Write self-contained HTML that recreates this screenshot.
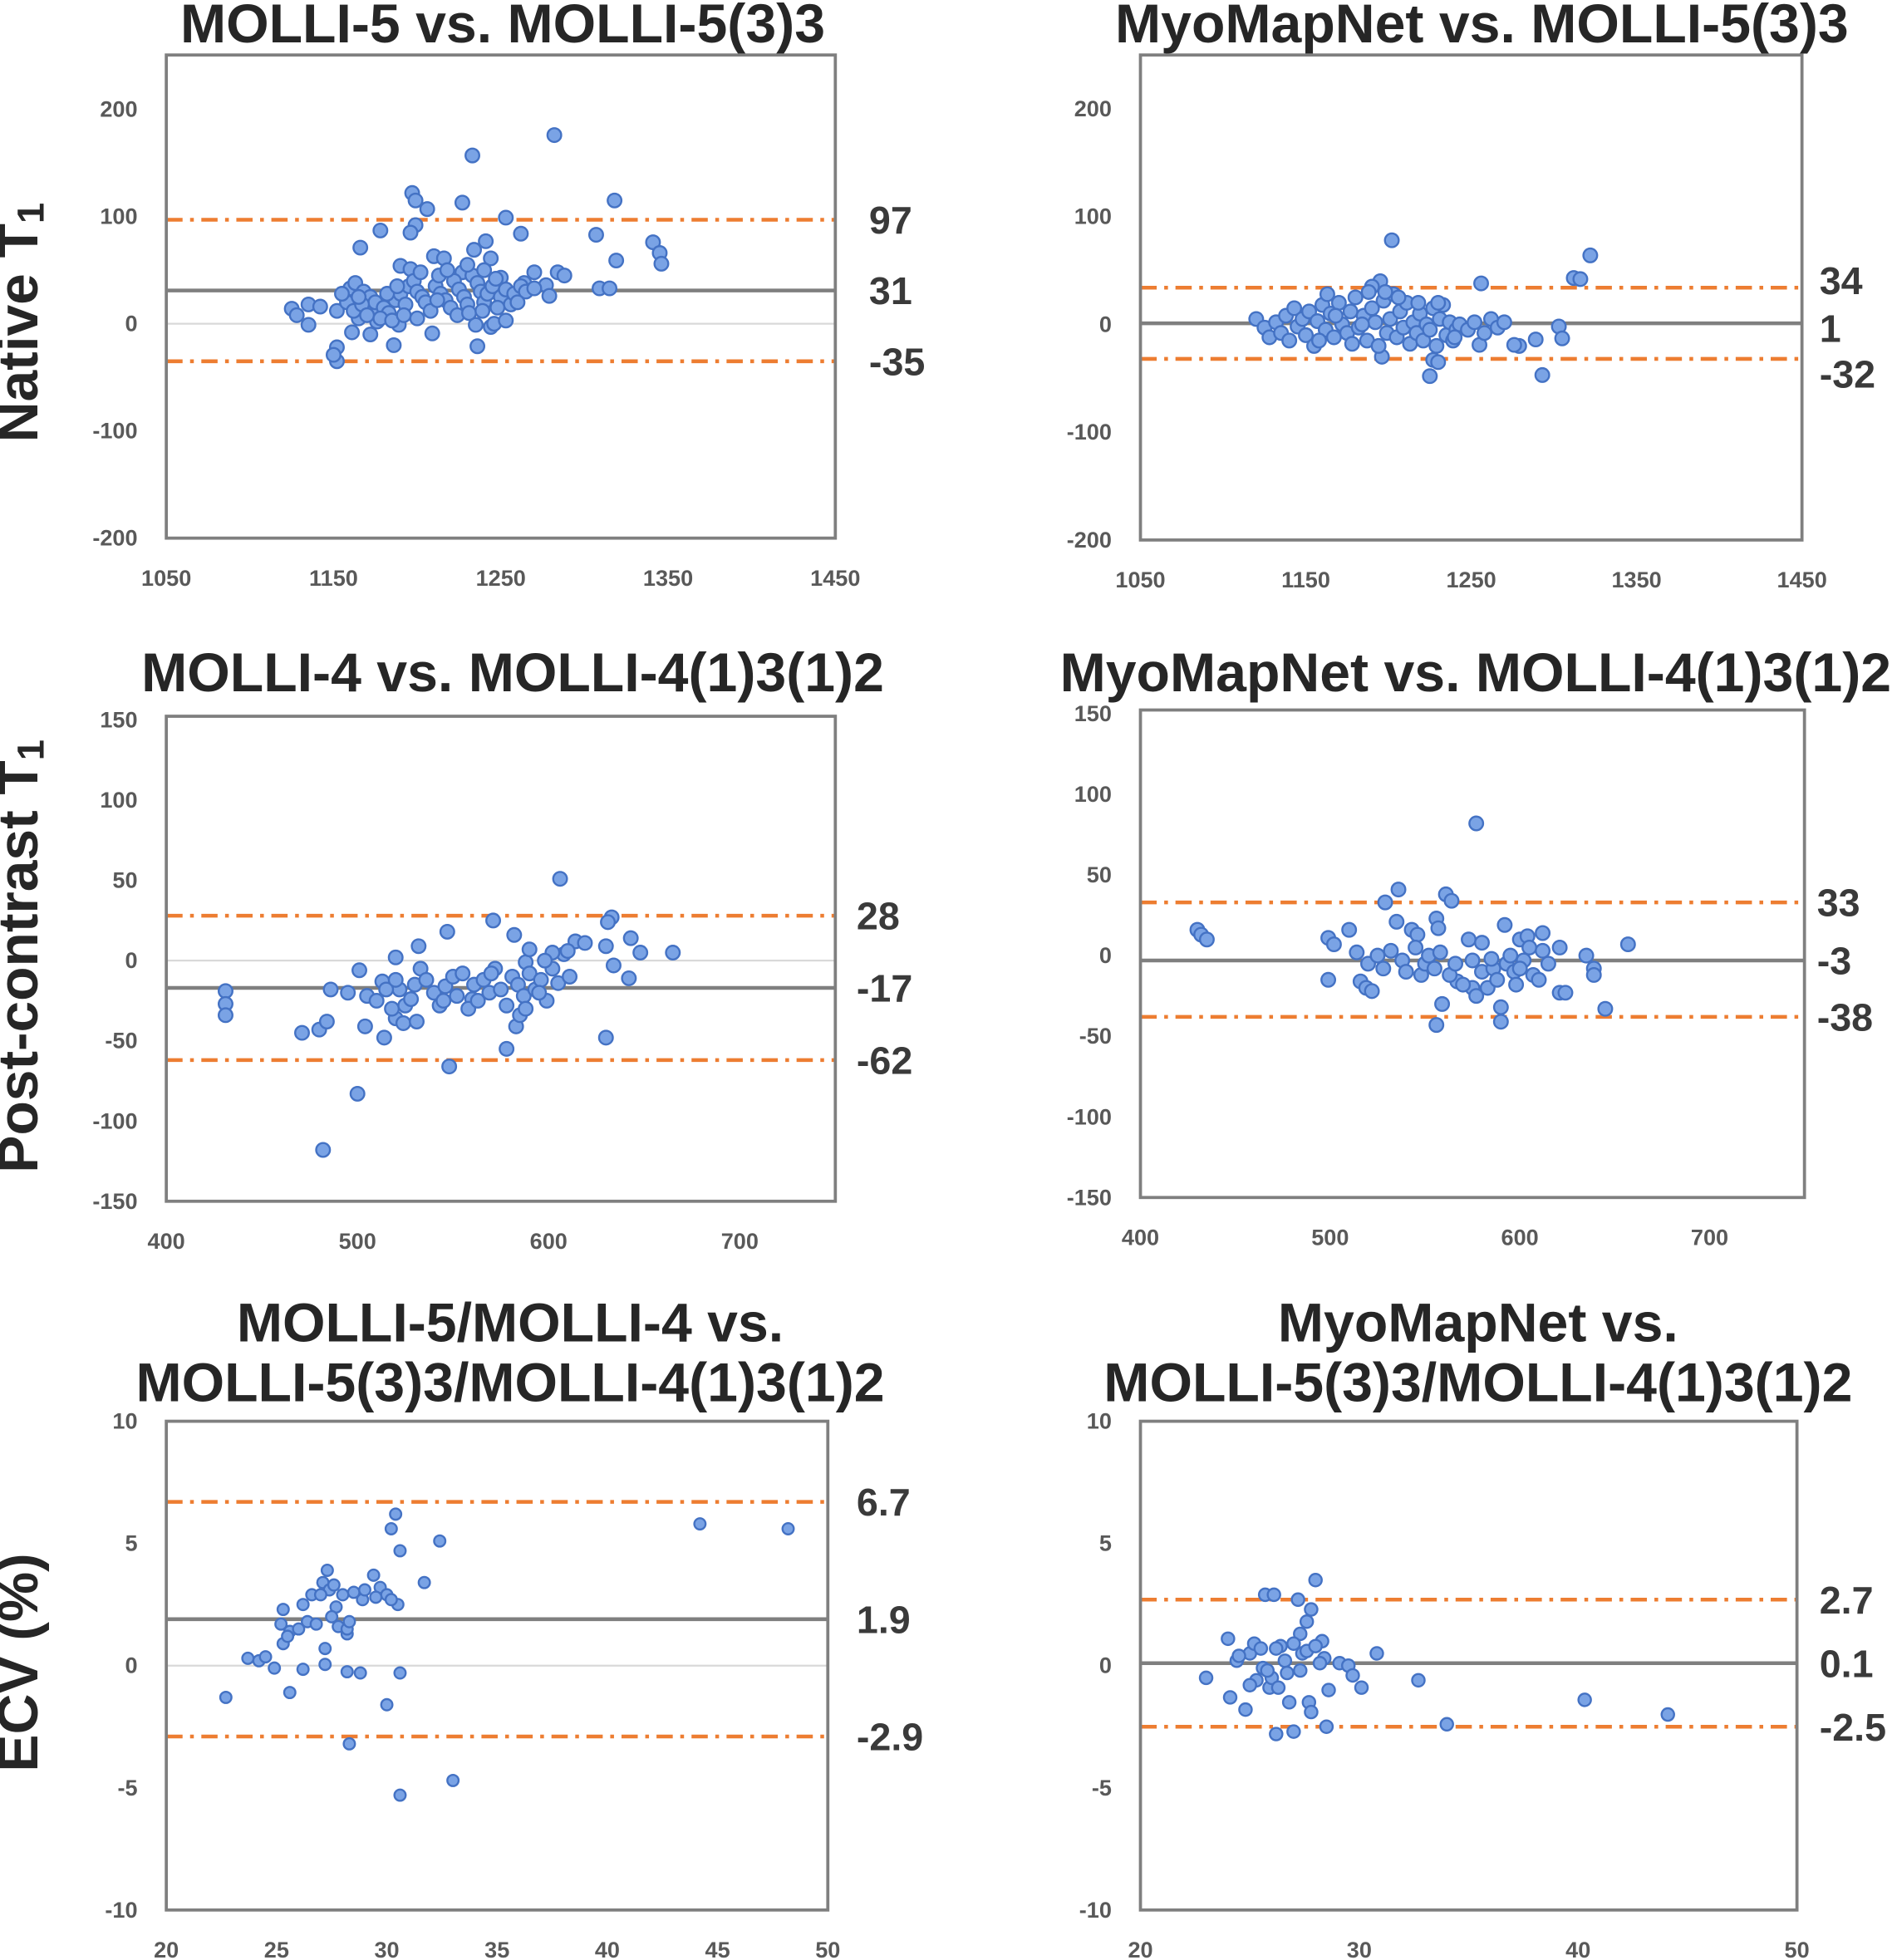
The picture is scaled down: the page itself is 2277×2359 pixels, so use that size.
<!DOCTYPE html>
<html><head><meta charset="utf-8"><style>
html,body{margin:0;padding:0;background:#fff;}
svg{display:block;}
text{font-family:"Liberation Sans",Arial,sans-serif;font-weight:bold;}
</style></head><body>
<svg id="chart" width="2277" height="2359" viewBox="0 0 1513 1568" preserveAspectRatio="none" xmlns="http://www.w3.org/2000/svg">
<text x="18" y="258" font-size="45" fill="#262626" text-anchor="middle" transform="rotate(-90 18 258)" dominant-baseline="middle">Native T<tspan font-size="30" dy="9">1</tspan></text>
<text x="18" y="765" font-size="45" fill="#262626" text-anchor="middle" transform="rotate(-90 18 765)" dominant-baseline="middle">Post-contrast T<tspan font-size="30" dy="9">1</tspan></text>
<text x="18" y="1330" font-size="45" fill="#262626" text-anchor="middle" transform="rotate(-90 18 1330)" dominant-baseline="middle">ECV (%)</text>
</svg>
<script>
// ---- data ----
const p1Points = [[1282,176],[1233,157],[1318,115],[1197,122],[1199,115],[1206,107],[1227,113],[1178,87],[1199,92],[1196,85],[1253,99],[1262,84],[1307,83],[1341,76],[1345,66],[1346,56],[1319,59],[1241,77],[1166,71],[1190,54],[1210,63],[1216,61],[1196,51],[1234,69],[1244,61],[1284,48],[1288,45],[1270,48],[1227,48],[1250,43],[1309,33],[1315,33],[1277,36],[1264,38],[1256,24],[1279,26],[1125,14],[1135,18],[1135,-1],[1128,8],[1142,16],[1152,12],[1152,-22],[1152,-35],[1150,-29],[1161,-8],[1172,-10],[1186,-20],[1209,-9],[1236,-21],[1244,-3],[1235,-1],[1246,0],[1253,3],[1189,-1],[1176,2],[1165,5],[1174,12],[1160,33],[1163,38],[1168,30],[1172,25],[1175,20],[1180,15],[1183,10],[1187,22],[1190,28],[1193,18],[1195,35],[1198,40],[1200,30],[1203,25],[1205,20],[1208,12],[1211,35],[1214,28],[1217,22],[1220,15],[1222,40],[1225,32],[1228,25],[1230,18],[1233,45],[1236,38],[1238,30],[1240,20],[1242,28],[1245,35],[1247,42],[1250,25],[1253,32],[1256,18],[1258,28],[1262,35],[1265,30],[1158,20],[1162,12],[1167,18],[1170,8],[1178,5],[1185,3],[1192,8],[1200,5],[1213,45],[1218,50],[1224,8],[1231,10],[1239,12],[1248,15],[1260,20],[1270,33],[1155,28],[1165,25],[1182,28],[1188,35],[1202,48],[1212,22],[1230,55],[1240,50]];
const p2Points = [[1202,78],[1322,64],[1312,43],[1316,42],[1256,38],[1195,40],[1190,35],[1293,-47],[1225,-48],[1227,-33],[1230,-35],[1196,-30],[1303,-2],[1305,-13],[1289,-14],[1279,-20],[1276,-19],[1255,-19],[1120,5],[1125,-3],[1128,-12],[1132,2],[1135,-8],[1138,8],[1140,-15],[1143,15],[1145,-2],[1148,5],[1150,-10],[1152,12],[1155,-20],[1157,3],[1160,18],[1162,-5],[1163,28],[1165,10],[1167,-12],[1170,20],[1172,0],[1175,-8],[1177,12],[1180,25],[1182,-3],[1185,8],[1187,-15],[1190,15],[1192,2],[1194,-20],[1197,22],[1199,-8],[1201,5],[1203,28],[1205,-12],[1207,12],[1209,-3],[1211,20],[1213,-18],[1215,2],[1217,-8],[1219,10],[1221,-15],[1223,0],[1225,-5],[1227,15],[1229,-20],[1231,5],[1233,18],[1235,-10],[1237,2],[1239,-15],[1241,-5],[1243,0],[1248,-5],[1252,2],[1258,-8],[1262,5],[1266,-3],[1270,2],[1158,-15],[1168,8],[1178,-18],[1188,30],[1198,30],[1206,25],[1218,20],[1230,20],[1240,-12],[1184,0]];
const p3Points = [[606,51],[482,-118],[500,-83],[633,27],[631,24],[630,-48],[431,-19],[431,-27],[431,-34],[471,-45],[480,-43],[484,-38],[486,-18],[495,-20],[501,-6],[504,-41],[514,-48],[520,-36],[524,-39],[531,-38],[532,9],[547,18],[548,-66],[560,-24],[571,25],[582,16],[578,-55],[583,-41],[585,-34],[588,-1],[590,7],[614,12],[619,11],[630,9],[634,-3],[642,-11],[643,14],[648,5],[665,5],[505,-22],[510,-25],[513,-13],[518,-30],[522,-18],[525,-28],[528,-24],[530,-15],[533,-5],[536,-12],[540,-20],[543,-28],[546,-16],[550,-10],[552,-22],[555,-8],[558,-30],[561,-15],[563,-25],[566,-12],[569,-20],[572,-5],[575,-18],[578,-28],[581,-10],[584,-15],[587,-22],[590,-8],[593,-18],[596,-12],[599,-25],[602,-5],[605,-14],[608,4],[611,-10],[602,5],[598,0],[520,2],[515,-18],[545,-25],[570,-8],[588,-30],[595,-20],[610,6],[520,-12]];
const p4Points = [[577,82],[430,16],[432,13],[435,10],[499,-15],[499,11],[502,7],[510,16],[514,2],[516,-16],[519,-20],[522,-22],[529,33],[536,41],[535,21],[543,16],[546,13],[556,23],[557,17],[556,-43],[559,-30],[561,38],[564,34],[567,-16],[573,10],[575,-20],[577,-25],[590,-32],[590,-41],[592,19],[600,10],[604,12],[612,14],[621,5],[621,-23],[624,-23],[635,0],[639,-8],[639,-12],[645,-33],[657,7],[520,-5],[525,0],[528,-8],[532,3],[538,-3],[540,-10],[545,5],[548,-12],[550,-5],[552,0],[555,-8],[558,2],[563,-12],[566,-5],[570,-18],[575,-3],[580,-10],[583,-20],[586,-8],[588,-15],[593,-5],[595,0],[597,-10],[598,-18],[602,-3],[605,5],[607,-12],[610,-15],[612,3],[615,-5],[580,8],[585,-2],[600,-8]];
const p5Points = [[22.7,-1.3],[23.7,0.3],[24.2,0.2],[24.5,0.36],[24.9,-0.1],[25.2,1.7],[25.3,2.3],[25.3,0.9],[25.6,1.4],[25.6,-1.1],[26.2,2.5],[26.2,-0.15],[26.4,1.8],[26.6,2.9],[27.1,3.4],[27.3,3.9],[27.4,3.1],[27.2,0.05],[27.2,0.7],[27.7,2.4],[28.0,2.9],[28.2,1.3],[28.2,-0.25],[28.3,-3.2],[28.8,-0.3],[28.9,2.7],[29.4,3.7],[29.7,3.2],[30.2,5.6],[30.4,6.2],[30.6,4.7],[30.5,2.5],[30.0,-1.6],[30.6,-5.3],[30.6,-0.3],[31.7,3.4],[32.4,5.1],[33.0,-4.7],[44.2,5.8],[48.2,5.6],[25.5,1.2],[26,1.5],[26.8,1.7],[27,2.9],[27.5,2.0],[27.8,1.6],[28.2,1.5],[28.5,3.0],[29,3.1],[30,2.9],[29.5,2.8],[30.2,2.7],[27.6,3.3],[28.3,1.8]];
const p6Points = [[23.0,-0.5],[24.0,1.1],[24.1,-1.3],[24.4,0.2],[24.8,-1.8],[25.0,0.5],[25.2,0.9],[25.3,-0.6],[25.7,2.9],[26.1,2.9],[25.6,-0.1],[25.9,-0.9],[26.2,-2.8],[26.4,0.8],[26.6,0.2],[26.8,-1.5],[27.0,-2.7],[27.2,2.7],[27.3,1.3],[27.4,0.5],[27.6,1.8],[27.8,2.3],[28.0,3.5],[27.7,-1.5],[27.8,-1.9],[28.3,1.0],[28.4,0.3],[28.5,-2.5],[28.6,-1.0],[29.1,0.1],[29.5,0.0],[29.7,-0.4],[30.1,-0.9],[30.8,0.5],[32.7,-0.6],[34.0,-2.4],[40.3,-1.4],[44.1,-2.0],[24.5,0.4],[25.0,-0.8],[25.5,0.7],[26.0,-0.5],[26.3,-0.9],[26.7,-0.3],[27.0,0.9],[27.3,-0.2],[27.6,0.6],[28,0.8],[28.2,0.1],[26.2,0.7],[25.8,-0.2]];
const meanValues = [31, 1, -17, -3, 1.9, 0.1];
const upperLoA = [97, 34, 28, 33, 6.7, 2.7];
const lowerLoA = [-35, -32, -62, -38, -2.9, -2.5];
const meanLabels = ["31","1","-17","-3","1.9","0.1"];
const upperLabels = ["97","34","28","33","6.7","2.7"];
const lowerLabels = ["-35","-32","-62","-38","-2.9","-2.5"];
const xTicks12 = [1050,1150,1250,1350,1450];
const yTicks12 = [200,100,0,-100,-200];
const xTicks34 = [400,500,600,700];
const yTicks34 = [150,100,50,0,-50,-100,-150];
const xTicks5 = [20,25,30,35,40,45,50];
const xTicks6 = [20,30,40,50];
const yTicks56 = [10,5,0,-5,-10];

// ---- layout ----
const panels = [
 {pts:p1Points, L:133,R:668,x0:1050,x1:1450,yT:200,pT:87.5,yB:-200,pB:430.5,top:44,xt:xTicks12,yt:yTicks12,lx:695,zero:true,title:["MOLLI-5 vs. MOLLI-5(3)3"],tx:402,ty:[34],r:5.5,labOff:[0,0,0]},
 {pts:p2Points, L:912,R:1441,x0:1050,x1:1450,yT:200,pT:87,yB:-200,pB:432,top:44,xt:xTicks12,yt:yTicks12,lx:1455,zero:false,title:["MyoMapNet vs. MOLLI-5(3)3"],tx:1185,ty:[34],r:5.5,labOff:[-6,4,12]},
 {pts:p3Points, L:133,R:668,x0:400,x1:750,yT:150,pT:576,yB:-150,pB:961,top:573,xt:xTicks34,yt:yTicks34,lx:685,zero:true,title:["MOLLI-4 vs. MOLLI-4(1)3(1)2"],tx:410,ty:[553],r:5.5,labOff:[0,0,0]},
 {pts:p4Points, L:912,R:1443,x0:400,x1:750,yT:150,pT:571,yB:-150,pB:958,top:568,xt:xTicks34,yt:yTicks34,lx:1453,zero:false,title:["MyoMapNet vs. MOLLI-4(1)3(1)2"],tx:1180,ty:[553],r:5.5,labOff:[0,0,0]},
 {pts:p5Points, L:133,R:662,x0:20,x1:50,yT:10,pT:1137,yB:-10,pB:1528,top:1137,xt:xTicks5,yt:yTicks56,lx:685,zero:true,title:["MOLLI-5/MOLLI-4 vs.","MOLLI-5(3)3/MOLLI-4(1)3(1)2"],tx:408,ty:[1073,1121],r:4.5,labOff:[0,0,0]},
 {pts:p6Points, L:912,R:1437,x0:20,x1:50,yT:10,pT:1137,yB:-10,pB:1528,top:1137,xt:xTicks6,yt:yTicks56,lx:1455,zero:false,title:["MyoMapNet vs.","MOLLI-5(3)3/MOLLI-4(1)3(1)2"],tx:1182,ty:[1073,1121],r:5,labOff:[0,0,0]}
];
const NS="http://www.w3.org/2000/svg";
const svg=document.getElementById('chart');
function mk(tag,attrs,parent){const e=document.createElementNS(NS,tag);for(const k in attrs)e.setAttribute(k,attrs[k]);(parent||svg).appendChild(e);return e;}
panels.forEach((p,i)=>{
 const g=mk('g',{});
 
 
 const xs=v=>p.L+(v-p.x0)/(p.x1-p.x0)*(p.R-p.L);
 const ys=v=>p.pB+(v-p.yB)/(p.yT-p.yB)*(p.pT-p.pB);
 const bottom=ys(p.yB);
 p.title.forEach((t,j)=>{
  const tt=mk('text',{x:p.tx,y:p.ty[j],'font-size':44,fill:'#262626','text-anchor':'middle'},g);
  tt.textContent=t;
  
  
 });
 if(p.zero){
  const z=mk('line',{x1:p.L,x2:p.R,y1:ys(0),y2:ys(0),stroke:'#d9d9d9','stroke-width':1.5},g);
  
  
 }
 const lo=mk('line',{x1:p.L,x2:p.R,y1:ys(upperLoA[i]),y2:ys(upperLoA[i]),stroke:'#ed7d31','stroke-width':3,'stroke-dasharray':'13 6 3 6'},g);
 
 
 const lo2=mk('line',{x1:p.L,x2:p.R,y1:ys(lowerLoA[i]),y2:ys(lowerLoA[i]),stroke:'#ed7d31','stroke-width':3,'stroke-dasharray':'13 6 3 6'},g);
 
 
 const m=mk('line',{x1:p.L,x2:p.R,y1:ys(meanValues[i]),y2:ys(meanValues[i]),stroke:'#7f7f7f','stroke-width':3},g);
 
 
 p.pts.forEach(d=>{
  const c=mk('circle',{cx:xs(d[0]),cy:ys(d[1]),r:p.r,fill:'#7aa3e5',stroke:'#4472c4','stroke-width':1.6},g);
  
  
 });
 const box=mk('rect',{x:p.L,y:p.top,width:p.R-p.L,height:bottom-p.top,fill:'none',stroke:'#7f7f7f','stroke-width':2.5},g);
 
 
 p.xt.forEach(v=>{
  const t=mk('text',{x:xs(v),y:bottom+38,'font-size':18,fill:'#595959','text-anchor':'middle'},g);
  t.textContent=v;
  
  
 });
 p.yt.forEach(v=>{
  const t=mk('text',{x:p.L-23,y:ys(v)+6,'font-size':18,fill:'#595959','text-anchor':'end'},g);
  t.textContent=v;
  
  
 });
 const labs=[[upperLabels[i],upperLoA[i],p.labOff[0]],[meanLabels[i],meanValues[i],p.labOff[1]],[lowerLabels[i],lowerLoA[i],p.labOff[2]]];
 labs.forEach((l,k)=>{
  const t=mk('text',{x:p.lx,y:ys(l[1])+11+l[2],'font-size':31,fill:'#3a3a3a'},g);
  t.textContent=l[0];
  
  
 });
});
</script>
</body></html>
